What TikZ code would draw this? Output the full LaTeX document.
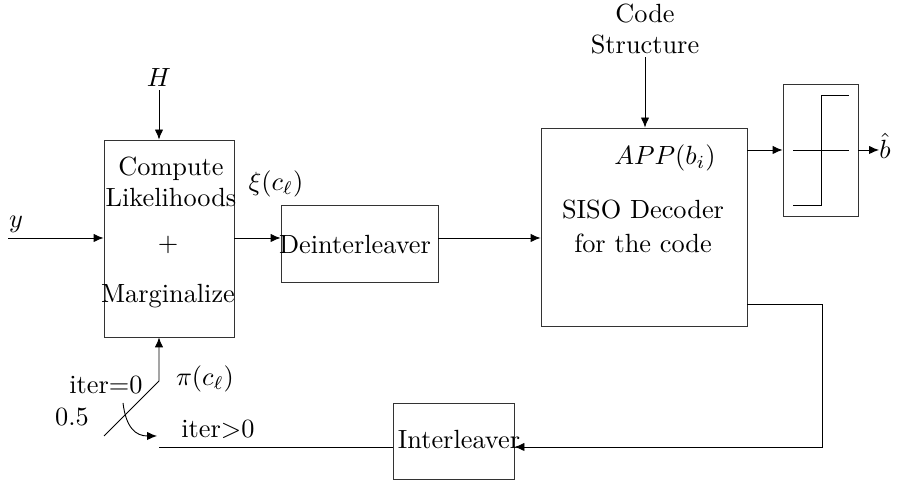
\documentclass[tikz,border=0pt]{standalone}
\usetikzlibrary{arrows.meta}
\begin{document}
\begin{tikzpicture}[x=0.38pt, y=-0.38pt, >={Latex[length=3.8pt, width=3.2pt]}, line width=0.35pt]
    \tikzstyle{block_style} = [draw=black!80, rectangle, inner sep=0pt]
    \tikzstyle{label_style} = [inner sep=1pt]
    \tikzstyle{edge_style} = [draw=black, ->]
    \tikzstyle{line_style} = [draw=black]
    \useasboundingbox (0,0) rectangle (906,485);

    \node[block_style, minimum width=130*0.38pt, minimum height=197*0.38pt] (comp) at (169,238.5) {};
    \node[block_style, minimum width=157*0.38pt, minimum height=77*0.38pt] (deint) at (359.5,243.5) {};
    \node[block_style, minimum width=206*0.38pt, minimum height=198*0.38pt] (siso) at (644,227) {};
    \node[block_style, minimum width=75*0.38pt, minimum height=132*0.38pt] (slicer) at (820.5,150) {};
    \node[block_style, minimum width=121*0.38pt, minimum height=76*0.38pt] (inter) at (453.5,441) {};

    \node[label_style, align=center] (comptxt) at (171,182) {Compute\\Likelihoods};
    \node[label_style] (plus) at (168,245) {$+$};
    \node[label_style] (marg) at (168,296) {Marginalize};
    \node[label_style] (deinttxt) at (355,245) {Deinterleaver};
    \node[label_style] (intertxt) at (459,440) {Interleaver};
    \node[label_style, align=center] (sisotxt) at (643,226) {SISO Decoder\\[1pt]for the code};
    \node[label_style] (app) at (665,158) {$APP(b_i)$};
    \node[label_style, align=center] (code) at (645,29) {Code\\Structure};
    \node[label_style] (H) at (159,78) {$H$};
    \node[label_style] (y) at (16,224) {$y$};
    \node[label_style] (xi) at (276,184) {$\xi(c_\ell)$};
    \node[label_style] (pi) at (205,379) {$\pi(c_\ell)$};
    \node[label_style] (it0) at (106,385) {iter=0};
    \node[label_style] (half) at (72,417) {0.5};
    \node[label_style] (itg) at (218,429) {iter$>$0};
    \node[inner sep=0pt, anchor=west] (bhat) at (879,146) {$\hat{b}$};

    \coordinate (yin) at (8,238);
    \coordinate (swa) at (104,436);
    \coordinate (swt) at (159,381);
    \coordinate (swb) at (159,447);
    \coordinate (cs) at (123,403);
    \coordinate (ce) at (157,436);
    \coordinate (fb1) at (822,304);
    \coordinate (fb2) at (822,447);

    \draw[edge_style] (yin) -- (yin -| comp.west);
    \draw[edge_style] (H) -- (H |- comp.north);
    \draw[edge_style] (yin -| comp.east) -- (yin -| deint.west);
    \draw[edge_style] (yin -| deint.east) -- (yin -| siso.west);
    \draw[edge_style] (code) -- (code |- siso.north);
    \draw[edge_style] (slicer.west -| siso.east) -- (slicer.west);
    \draw[edge_style] (slicer.east) -- (slicer.east -| bhat.west);
    \draw[edge_style] (fb1 -| siso.east) -- (fb1) -- (fb2) -- (fb2 -| inter.east);
    \draw[line_style] (swb -| inter.west) -- (swb);
    \draw[edge_style] (swa) -- (swt) -- (swt |- comp.south);
    \draw[edge_style] (cs) .. controls (126,428) and (136,436) .. (ce);

    % slicer curve
    \draw[line_style] (793,150) -- (849,150);
    \draw[line_style] (793,205) -- (821,205) -- (821,95) -- (849,95);
\end{tikzpicture}
\end{document}
